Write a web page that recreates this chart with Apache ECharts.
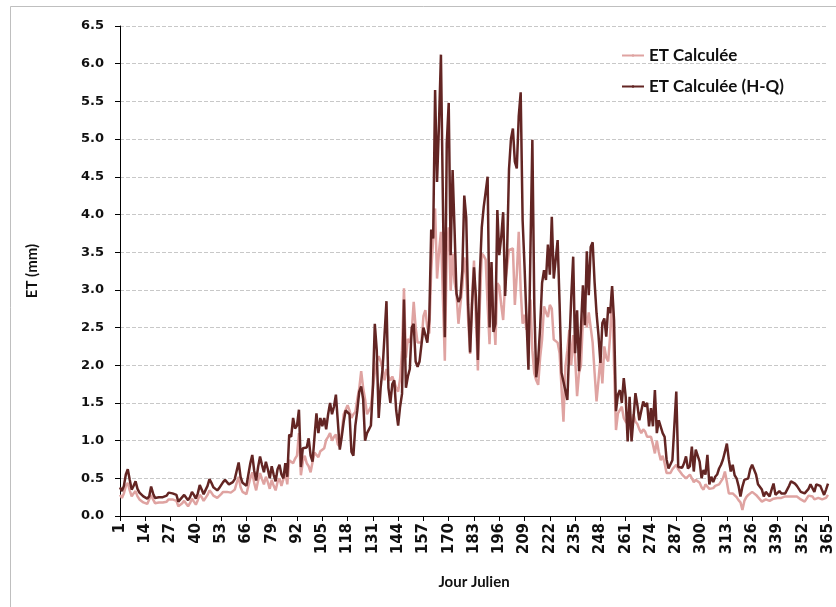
<!DOCTYPE html>
<html>
<head>
<meta charset="utf-8">
<title>ET journalière</title>
<script src="https://cdn.jsdelivr.net/npm/echarts@6/dist/echarts.min.js"></script>
<style>
  html, body { margin: 0; padding: 0; background: #ffffff; }
  #chart { width: 836px; height: 607px; }
</style>
</head>
<body>
<div id="chart"></div>
<script>
// Jour julien 1..365
const days = Array.from({ length: 365 }, (_, i) => String(i + 1));

// Y-axis tick labels (mm)
const yTicks = ['0.0','0.5','1.0','1.5','2.0','2.5','3.0','3.5','4.0','4.5','5.0','5.5','6.0','6.5'];

// ET Calculée (mm/jour)
const etCalculee = [
  0.28,0.24,0.30,0.40,0.44,0.34,0.26,0.30,0.33,0.26,
  0.22,0.20,0.18,0.19,0.16,0.18,0.28,0.22,0.17,0.16,
  0.18,0.17,0.18,0.17,0.19,0.22,0.23,0.22,0.23,0.20,
  0.13,0.15,0.17,0.20,0.18,0.13,0.17,0.23,0.19,0.15,
  0.21,0.28,0.25,0.20,0.21,0.28,0.34,0.31,0.27,0.25,
  0.24,0.26,0.29,0.32,0.34,0.32,0.30,0.31,0.32,0.35,
  0.44,0.52,0.38,0.32,0.31,0.29,0.40,0.50,0.58,0.44,
  0.34,0.47,0.57,0.49,0.42,0.52,0.45,0.36,0.48,0.40,
  0.34,0.45,0.50,0.40,0.38,0.58,0.42,0.74,0.72,0.70,
  0.76,0.80,1.10,0.54,0.72,0.80,0.70,0.66,0.58,0.72,
  0.84,0.83,0.78,0.86,0.88,0.90,1.01,1.05,1.10,1.00,
  1.05,1.08,0.95,0.92,1.10,1.35,1.41,1.47,1.40,1.30,
  1.35,1.38,1.55,1.69,1.92,1.70,1.55,1.35,1.40,1.45,
  1.70,1.90,2.05,2.12,2.05,1.95,1.80,1.95,1.85,1.80,
  1.85,1.78,1.70,1.65,1.82,2.20,3.02,2.10,2.35,2.30,
  2.45,2.84,2.50,2.30,2.28,2.30,2.65,2.73,2.50,2.42,
  3.26,3.26,4.08,3.15,3.50,3.77,2.90,2.06,3.50,3.83,
  2.99,3.48,3.10,2.95,2.55,2.80,3.04,3.43,3.20,2.60,
  2.15,2.90,3.39,2.60,1.93,2.80,3.48,3.45,3.40,2.80,
  2.28,3.12,2.73,2.27,3.09,3.05,2.80,2.60,3.09,3.30,
  3.53,3.55,3.55,2.80,3.20,3.77,3.00,2.55,2.67,2.47,
  2.60,2.87,2.20,1.89,1.80,1.74,2.10,2.34,2.78,2.70,
  2.64,2.80,2.75,2.34,2.32,2.30,2.16,1.70,1.25,1.98,
  2.20,2.47,2.00,2.40,2.10,1.59,1.90,2.00,2.60,2.73,
  2.50,2.70,2.68,2.30,1.90,1.52,1.80,2.10,1.76,2.25,
  2.10,2.05,2.40,3.00,2.00,1.14,1.36,1.36,1.45,1.30,
  1.25,1.22,1.15,1.13,1.35,1.25,1.22,1.15,1.10,1.15,
  1.12,1.05,1.05,1.05,0.95,0.83,1.00,0.85,0.74,0.80,
  0.70,0.57,0.58,0.57,0.62,0.65,0.68,0.62,0.60,0.55,
  0.55,0.50,0.48,0.55,0.57,0.45,0.48,0.46,0.44,0.38,
  0.35,0.42,0.40,0.36,0.38,0.37,0.40,0.38,0.42,0.44,
  0.50,0.59,0.45,0.30,0.32,0.30,0.31,0.25,0.21,0.18,
  0.08,0.20,0.25,0.28,0.30,0.32,0.30,0.28,0.25,0.22,
  0.19,0.20,0.22,0.21,0.20,0.21,0.23,0.22,0.24,0.25,
  0.24,0.25,0.26,0.25,0.26,0.27,0.26,0.28,0.26,0.24,
  0.22,0.21,0.19,0.20,0.27,0.28,0.26,0.22,0.20,0.24,
  0.25,0.22,0.20,0.24,0.28
];

// ET Calculée (H-Q) (mm/jour)
const etCalculeeHQ = [
  0.38,0.33,0.40,0.55,0.62,0.48,0.35,0.40,0.46,0.36,
  0.31,0.30,0.26,0.27,0.23,0.26,0.39,0.30,0.24,0.22,
  0.25,0.24,0.25,0.24,0.27,0.31,0.31,0.30,0.31,0.28,
  0.19,0.22,0.25,0.28,0.26,0.21,0.25,0.32,0.28,0.23,
  0.30,0.41,0.35,0.29,0.30,0.40,0.49,0.44,0.38,0.36,
  0.34,0.37,0.41,0.45,0.48,0.45,0.42,0.43,0.45,0.49,
  0.60,0.71,0.52,0.44,0.43,0.40,0.55,0.70,0.81,0.60,
  0.47,0.65,0.79,0.68,0.58,0.72,0.62,0.50,0.66,0.55,
  0.46,0.62,0.68,0.55,0.50,0.70,0.52,1.08,1.05,1.30,
  1.16,1.20,1.41,0.65,0.90,0.92,0.91,1.03,0.80,0.72,
  1.05,1.36,1.10,1.30,1.19,1.30,1.15,1.35,1.50,1.35,
  1.45,1.61,1.25,0.88,1.05,1.25,1.40,1.41,1.35,0.85,
  0.80,1.20,1.40,1.65,1.72,1.55,1.00,1.10,1.15,1.20,
  1.70,2.55,2.20,1.30,1.70,1.95,2.40,2.85,1.70,1.50,
  1.75,1.80,1.40,1.20,1.45,1.62,2.87,1.70,1.85,1.95,
  2.50,2.55,2.05,1.98,2.05,2.05,2.50,2.50,2.30,2.60,
  3.80,3.68,5.65,4.43,5.20,6.12,4.20,2.37,4.94,5.48,
  3.46,4.59,3.80,2.95,2.84,2.90,3.26,4.25,3.96,2.80,
  2.17,2.80,3.30,2.90,2.07,3.20,3.83,4.10,4.30,4.50,
  2.50,3.37,2.44,2.55,4.06,3.46,3.70,4.03,2.92,3.48,
  4.60,5.00,5.14,4.70,4.61,5.30,5.62,3.92,3.30,2.60,
  1.94,3.50,4.99,2.80,1.84,2.07,2.50,3.09,3.26,3.13,
  3.60,3.20,3.97,3.15,3.40,3.66,2.82,1.90,1.78,1.80,
  1.54,2.25,2.90,3.44,2.16,2.73,1.92,2.50,3.06,2.53,
  3.51,2.93,3.57,3.63,3.10,2.69,2.40,2.03,2.56,2.62,
  2.38,2.77,2.69,3.05,2.60,1.39,1.61,1.67,1.50,1.83,
  1.58,0.99,1.58,0.99,1.30,1.63,1.47,1.27,1.27,1.52,
  1.45,1.50,1.19,1.43,1.19,1.67,1.10,1.27,1.27,1.10,
  1.05,0.75,0.63,0.62,0.74,0.76,1.65,0.65,0.66,0.64,
  0.70,0.79,0.63,0.66,0.92,0.59,0.88,0.80,0.72,0.50,
  0.61,0.55,0.81,0.42,0.52,0.45,0.52,0.55,0.63,0.68,
  0.75,0.85,0.96,0.75,0.59,0.68,0.54,0.50,0.40,0.26,
  0.39,0.48,0.50,0.50,0.62,0.68,0.70,0.55,0.42,0.40,
  0.35,0.26,0.32,0.30,0.26,0.35,0.43,0.28,0.30,0.33,
  0.30,0.28,0.30,0.28,0.40,0.46,0.44,0.43,0.40,0.36,
  0.32,0.33,0.30,0.28,0.36,0.42,0.42,0.32,0.42,0.43,
  0.40,0.34,0.28,0.35,0.43
];

const tickFont = 'DejaVu Sans';
const titleFont = 'Lato';

const chart = echarts.init(document.getElementById('chart'), null, { renderer: 'canvas' });

chart.setOption({
  backgroundColor: '#ffffff',
  animation: false,
  graphic: [{
    type: 'rect',
    shape: { x: 10.5, y: 6.5, width: 840, height: 640 },
    style: { fill: 'none', stroke: '#bfbfbf', lineWidth: 1 },
    silent: true,
    z: -1
  }],
  grid: { left: 120, right: 8, top: 26, bottom: 91, containLabel: false },
  legend: {
    orient: 'vertical',
    left: 616,
    top: 42,
    itemGap: 14,
    itemWidth: 22,
    itemHeight: 3,
    textStyle: { fontFamily: titleFont, fontWeight: 'bold', fontSize: 17, color: '#111' },
    data: ['ET Calculée', 'ET Calculée (H-Q)']
  },
  xAxis: {
    type: 'category',
    data: days,
    boundaryGap: false,
    name: 'Jour Julien',
    nameLocation: 'middle',
    nameGap: 59,
    nameTextStyle: { fontFamily: titleFont, fontWeight: 'bold', fontSize: 15, color: '#111' },
    axisLine: { lineStyle: { color: '#000', width: 1 } },
    axisTick: { interval: 12, length: 5, lineStyle: { color: '#000' } },
    axisLabel: {
      interval: 12,
      rotate: 90,
      margin: 7,
      fontFamily: tickFont,
      fontWeight: 'bold',
      fontSize: 15,
      color: '#111'
    },
    splitLine: { show: false }
  },
  yAxis: {
    type: 'value',
    min: 0,
    max: 6.5,
    interval: 0.5,
    name: 'ET (mm)',
    nameLocation: 'middle',
    nameRotate: 90,
    nameGap: 80,
    nameTextStyle: { fontFamily: titleFont, fontWeight: 'bold', fontSize: 15, color: '#111' },
    axisLine: { show: true, lineStyle: { color: '#000', width: 1 } },
    axisTick: { show: true, length: 5, lineStyle: { color: '#000' } },
    axisLabel: {
      margin: 16,
      fontFamily: tickFont,
      fontWeight: 'bold',
      fontSize: 13,
      color: '#111',
      formatter: (v) => yTicks[Math.round(v / 0.5)]
    },
    splitLine: { show: true, lineStyle: { color: '#c8c8c8', type: 'dashed', width: 1 } }
  },
  series: [
    {
      name: 'ET Calculée',
      type: 'line',
      data: etCalculee,
      symbol: 'none',
      smooth: false,
      lineStyle: { color: '#DFA3A1', width: 2.5 },
      itemStyle: { color: '#DFA3A1' },
      z: 2
    },
    {
      name: 'ET Calculée (H-Q)',
      type: 'line',
      data: etCalculeeHQ,
      symbol: 'none',
      smooth: false,
      lineStyle: { color: '#632523', width: 2.5 },
      itemStyle: { color: '#632523' },
      z: 3
    }
  ]
});
</script>
</body>
</html>
